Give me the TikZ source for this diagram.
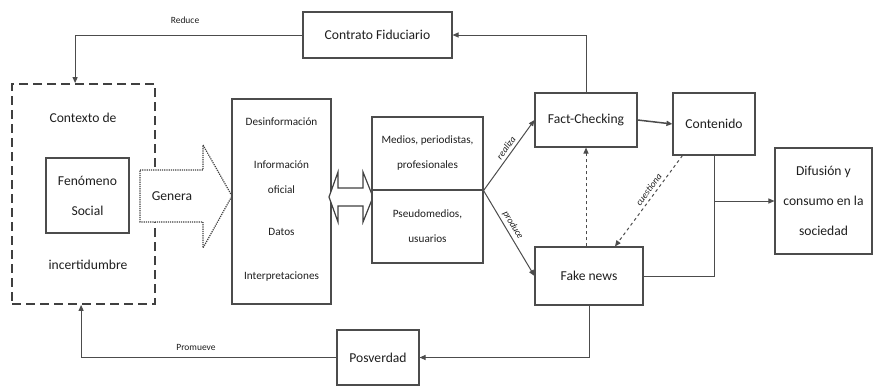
\documentclass[tikz,border=0pt]{standalone}
\usepackage{fontspec}
\setmainfont{Carlito}
\usetikzlibrary{arrows.meta}
\begin{document}
\begin{tikzpicture}[x=1pt,y=-1pt,
  every node/.style={text=black!88},
  box/.style={draw=black!70, line width=1.1pt, fill=white, inner sep=0pt, align=center, font=\fontsize{13.6}{30}\selectfont},
  midbox/.style={box, font=\fontsize{11.2}{25}\selectfont},
  lbl/.style={font=\fontsize{11.2}{25}\selectfont, inner sep=0pt, align=center},
  big/.style={font=\fontsize{13.6}{16}\selectfont, inner sep=0pt},
  conn/.style={draw=black!70, line width=1pt},
  tip/.style={-{Triangle[length=6pt,width=5pt]}},
  small/.style={font=\fontsize{9.5}{11}\selectfont, inner sep=1pt},
  elbl/.style={font=\fontsize{9.5}{11}\selectfont\itshape, inner sep=3pt},
  bigarrow/.style={draw=black!75, line width=1.2pt, fill=white}
]
\path[use as bounding box] (0,0) rectangle (873,386);

% top
\node[box, minimum width=149pt, minimum height=46pt] (contrato) at (377.5,35) {Contrato Fiduciario};

% context box
\node[draw=black!75, line width=1.8pt, dash pattern=on 9pt off 5pt, minimum width=143pt, minimum height=220pt, inner sep=0pt] (ctx) at (83.5,194) {};
\node[big] (ctxt) at (83,118) {Contexto de};
\node[big] (incert) at (88,265) {incertidumbre};
\node[box, line width=1.8pt, minimum width=83pt, minimum height=75pt] (fen) at (87.5,195.5) {Fenómeno\\Social};

% Genera arrow
\draw[bigarrow, densely dotted] (140,170) -- (203,170) -- (203,145) -- (232,196) -- (203,248) -- (203,222) -- (140,222) -- cycle;
\node[big] (genera) at (172,196) {Genera};

% information box
\node[box, minimum width=99pt, minimum height=205pt] (des) at (281.5,201.5) {};
\node[lbl] (t1) at (281.5,122) {Desinformación};
\node[lbl] (t2) at (281.5,177.5) {Información\\oficial};
\node[lbl] (t3) at (281.5,232) {Datos};
\node[lbl] (t4) at (281.5,277) {Interpretaciones};

% double arrow
\draw[bigarrow] (329,197) -- (338,172) -- (338,188) -- (363,188) -- (363,172) -- (373,197) -- (363,222) -- (363,206) -- (338,206) -- (338,222) -- cycle;

% actors
\node[midbox, minimum width=111pt, minimum height=73pt] (medios) at (427.5,153.5) {Medios, periodistas,\\profesionales};
\node[midbox, minimum width=111pt, minimum height=73pt] (pseudo) at (427.5,226.5) {Pseudomedios,\\usuarios};

% right part
\node[box, minimum width=102pt, minimum height=54pt] (fc) at (586,120) {Fact-Checking};
\node[box, minimum width=82pt, minimum height=62pt] (cont) at (714,124) {Contenido};
\node[box, minimum width=97pt, minimum height=106pt] (dif) at (823.5,201) {Difusión y\\consumo en la\\sociedad};
\node[box, minimum width=108pt, minimum height=58pt] (fake) at (589,276) {Fake news};
\node[box, minimum width=82pt, minimum height=55pt] (pos) at (378,357.5) {Posverdad};

% connectors
\draw[conn, tip] (contrato.west) -| ([xshift=64pt]ctx.north west);
\node[small] (reduce) at (185,20) {Reduce};
\draw[conn, tip] (fc.north) |- (contrato.east);
\draw[conn, line width=1.5pt, tip] (fc.east) -- (cont.west);
\coordinate (split) at (medios.south east);
\draw[conn, tip] (split) -- node[elbl, sloped, above, pos=0.55] {realiza} (fc.west);
\draw[conn, tip] (split) -- node[elbl, sloped, above, pos=0.45] {produce} (fake.west);
\draw[conn, dashed, tip] (fc.south |- fake.north) -- (fc.south);
\draw[conn, dashed, tip] ([xshift=10pt]cont.south west) -- node[elbl, sloped, above, pos=0.42] {cuestiona} ([xshift=26pt]fake.north);
\draw[conn] (fake.east) -| (cont.south);
\coordinate (jn) at (cont.south |- dif.west);
\draw[conn, tip] (jn) -- (dif.west);
\draw[conn, tip] (fake.south) |- (pos.east);
\draw[conn, tip] (pos.west) -| ([xshift=70pt]ctx.south west);
\node[small] (promueve) at (196,347) {Promueve};
\end{tikzpicture}
\end{document}
